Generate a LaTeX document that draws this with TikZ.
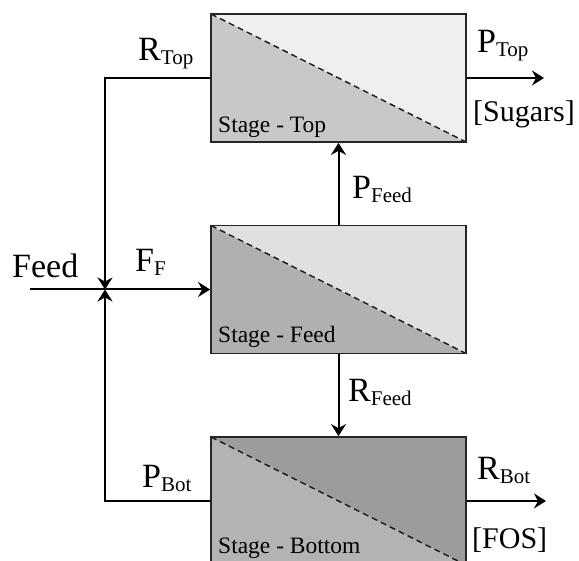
\documentclass[tikz,border=0pt]{standalone}
\usepackage{fontspec}
\setmainfont{Liberation Serif}
\usetikzlibrary{arrows.meta}

\definecolor{topup}{HTML}{EFEFEF}
\definecolor{toplow}{HTML}{C8C8C8}
\definecolor{feedup}{HTML}{E0E0E0}
\definecolor{feedlow}{HTML}{B0B0B0}
\definecolor{botup}{HTML}{9C9C9C}
\definecolor{botlow}{HTML}{B3B3B3}

% stream label: large letter with a lowered small subscript
\newcommand\streamlbl[2]{{\fontsize{34}{34}\selectfont #1}\raisebox{-4pt}{\fontsize{21}{21}\selectfont #2}}

\tikzset{
  stagebox/.style n args={2}{
    rectangle, draw=black!85, line width=1.8pt,
    minimum width=255pt, minimum height=128pt, inner sep=0pt,
    path picture={
      \fill[#2] (path picture bounding box.north west) --
        (path picture bounding box.south west) --
        (path picture bounding box.south east) -- cycle;
      \fill[#1] (path picture bounding box.north west) --
        (path picture bounding box.north east) --
        (path picture bounding box.south east) -- cycle;
      \draw[line width=1.4pt, dash pattern=on 6pt off 4pt, black!90]
        (path picture bounding box.north west) --
        (path picture bounding box.south east);
    }},
  flow/.style={line width=2pt, -{Stealth[length=12pt, width=15pt, inset=4pt]}},
  biglbl/.style={font=\fontsize{30}{30}\selectfont, inner sep=0pt, anchor=base west},
  stagelbl/.style={font=\fontsize{23.5}{23.5}\selectfont, inner sep=0pt, anchor=base west},
}

\begin{document}
\begin{tikzpicture}[x=1pt, y=-1pt]
  \clip (0,0) rectangle (579,561);
  \fill[white] (0,0) rectangle (579,561);

  % the three membrane stages
  \node[stagebox={topup}{toplow}]   (top)  at (338.5, 78)  {};
  \node[stagebox={feedup}{feedlow}] (feed) at (338.5, 289.5) {};
  \node[stagebox={botup}{botlow}]   (bot)  at (338.5, 501) {};

  \node[stagelbl] (ltop)  at (218,133) {Stage - Top};
  \node[stagelbl] (lfeed) at (218,343) {Stage - Feed};
  \node[stagelbl] (lbot)  at (218,554) {Stage - Bottom};

  % free ends of the streams
  \coordinate (jn) at (105,289.5);
  \coordinate (fin) at (30,289.5);
  \coordinate (sug) at (544,78);
  \coordinate (fos) at (546,501);

  % streams
  \draw[flow] (fin) -- (feed.west);
  \draw[flow] (feed.north) -- (top.south);
  \draw[flow] (feed.south) -- (bot.north);
  \draw[flow] (top.west) -| (jn);
  \draw[flow] (bot.west) -| (jn);
  \draw[flow] (top.east) -- (sug);
  \draw[flow] (bot.east) -- (fos);

  % stream labels
  \node[biglbl] (lrtop)  at (138,61)  {\streamlbl{R}{Top}};
  \node[biglbl, font=\fontsize{34}{34}\selectfont] (lin) at (12,278) {Feed};
  \node[biglbl] (lff)    at (135,272) {\streamlbl{F}{F}};
  \node[biglbl] (lpfeed) at (352,199) {\streamlbl{P}{Feed}};
  \node[biglbl] (lrfeed) at (348,402) {\streamlbl{R}{Feed}};
  \node[biglbl] (lpbot)  at (142,488) {\streamlbl{P}{Bot}};
  \node[biglbl] (lptop)  at (477,53)  {\streamlbl{P}{Top}};
  \node[biglbl] (lsug)   at (473,122) {[Sugars]};
  \node[biglbl] (lrbot)  at (477,480) {\streamlbl{R}{Bot}};
  \node[biglbl] (lfos)   at (472,548) {[FOS]};
\end{tikzpicture}
\end{document}
